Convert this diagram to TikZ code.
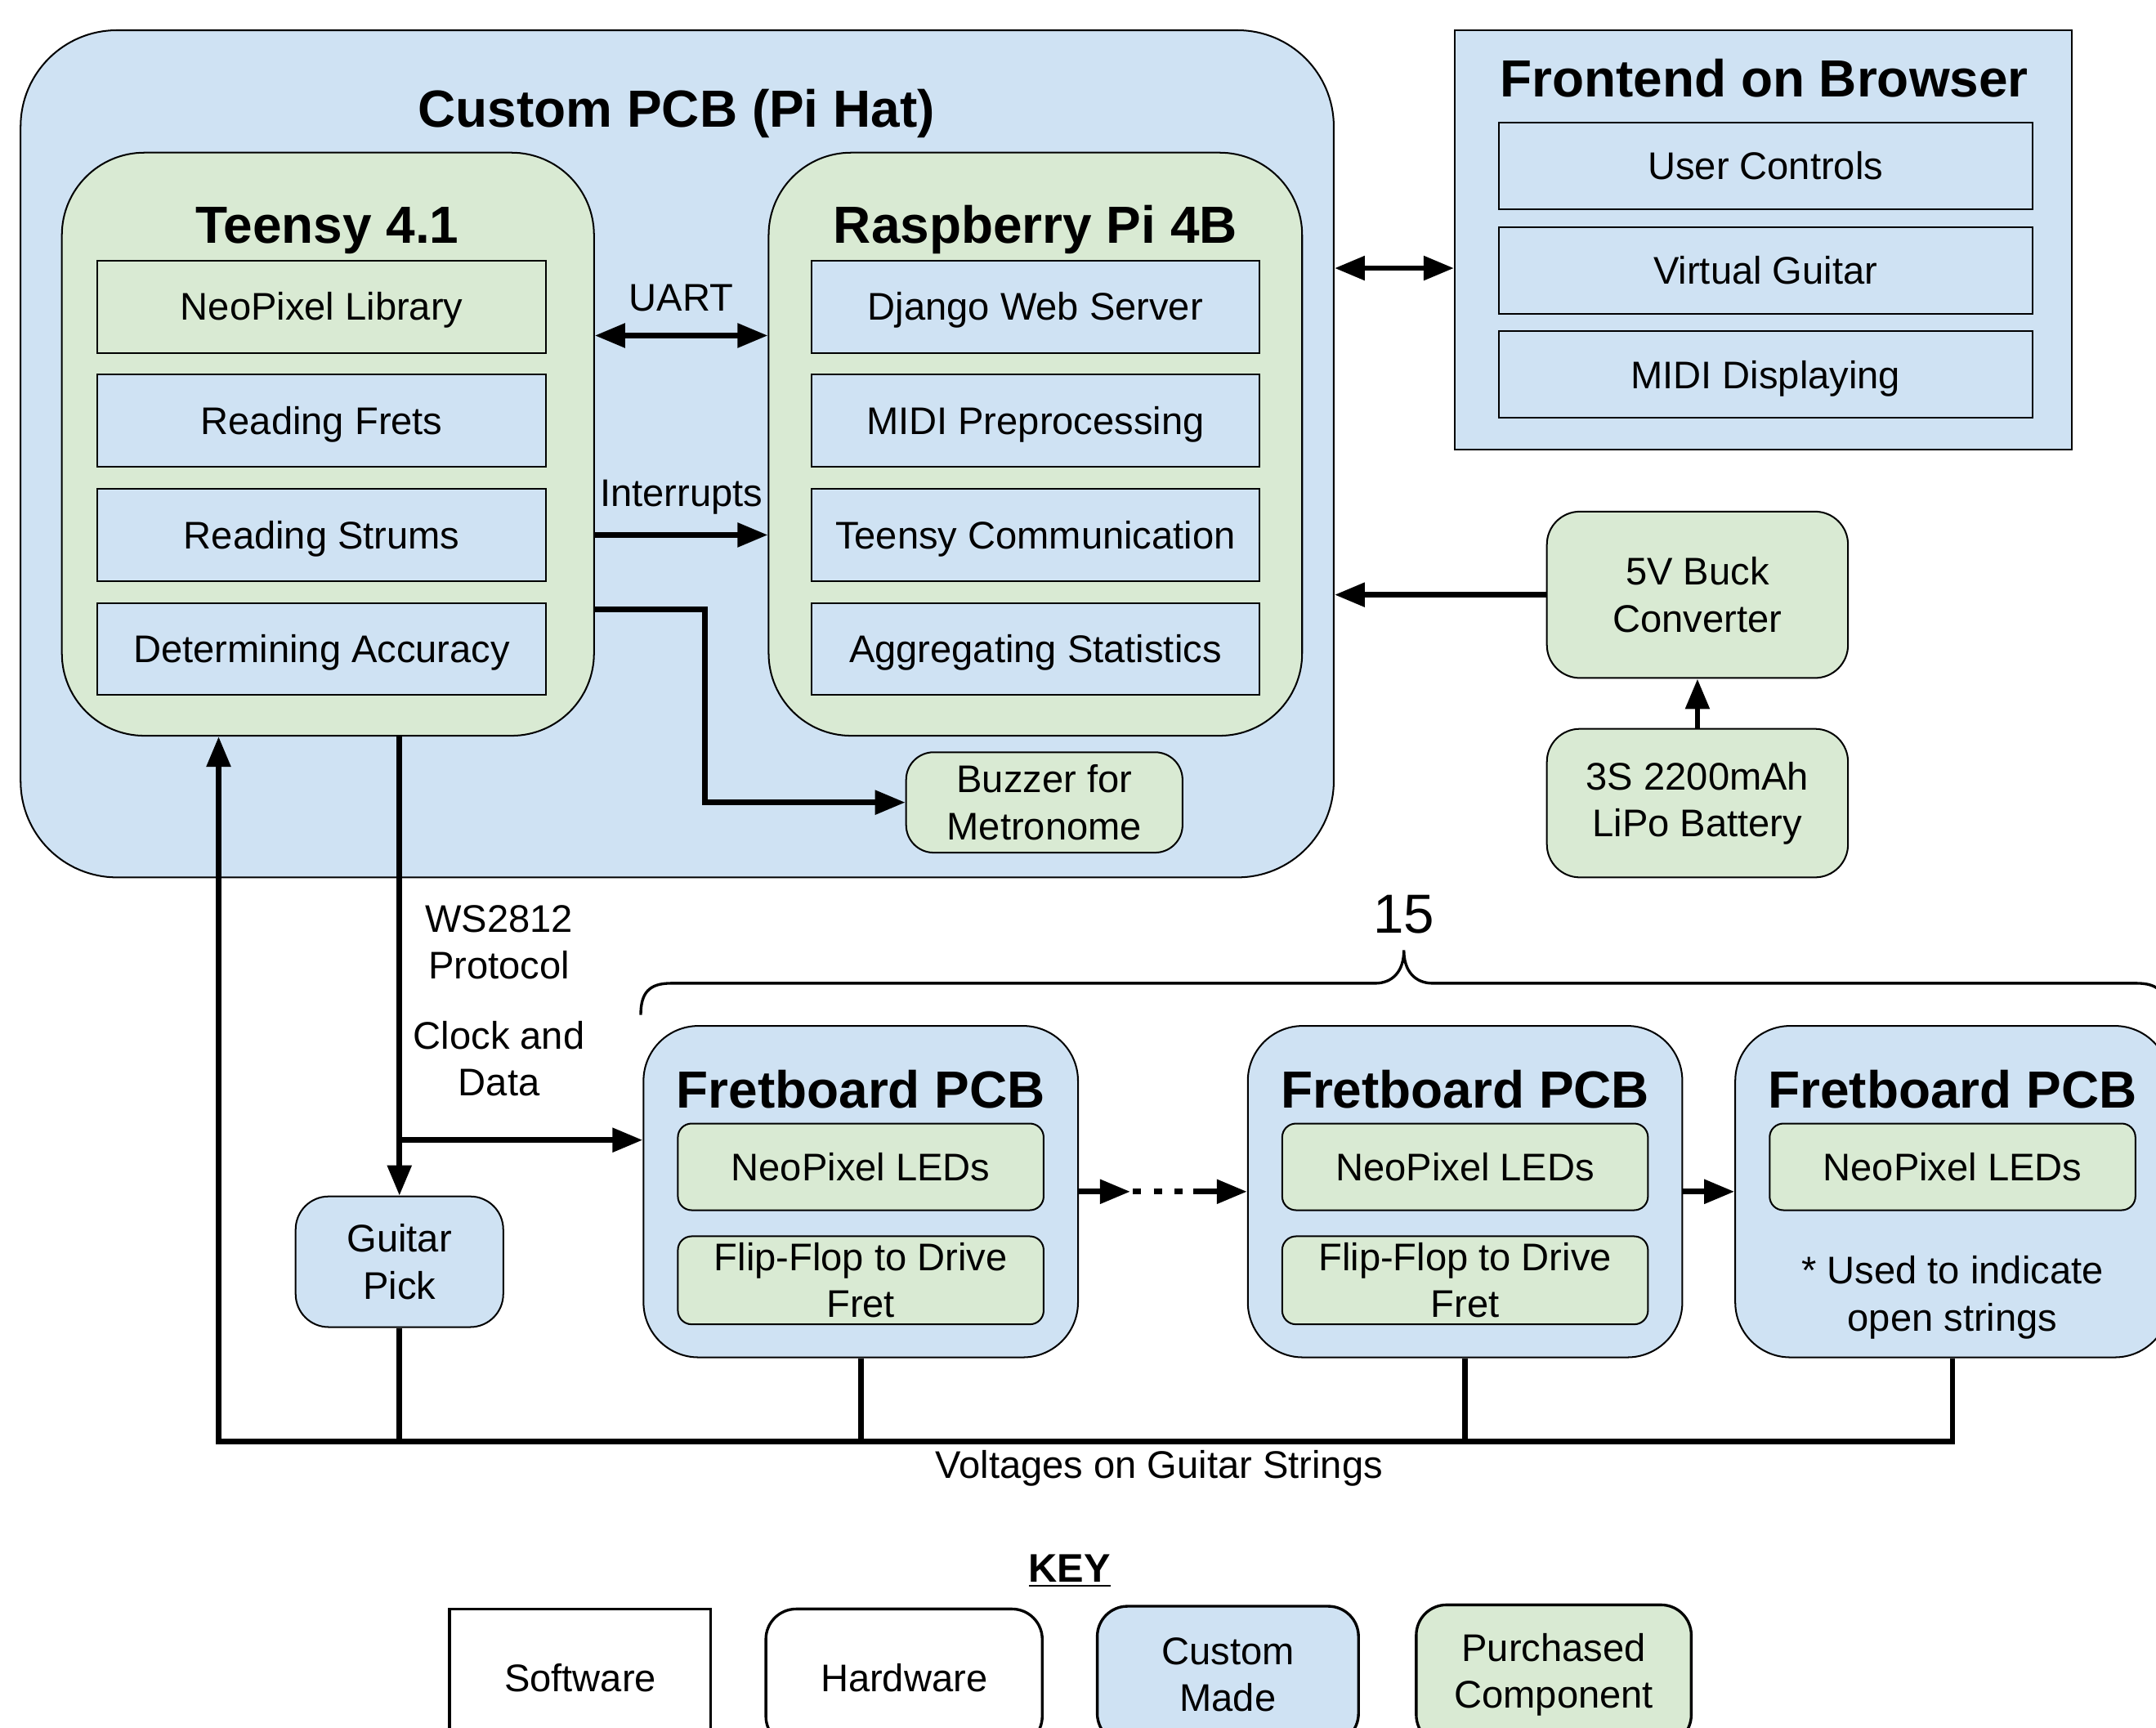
\documentclass[tikz,border=0pt]{standalone}
\usepackage{fontspec}
\setmainfont{Liberation Sans}
\usetikzlibrary{positioning,calc,arrows.meta}
\definecolor{pcbblue}{HTML}{CFE2F3}
\definecolor{partgreen}{HTML}{D9EAD3}
\newcommand{\dgtext}{\fontsize{14}{17}\selectfont}
\newcommand{\dgtitle}{\fontsize{19}{23}\selectfont\bfseries}

\begin{document}
\begin{tikzpicture}
   [x=0.5pt,y=-0.5pt,node distance=7.4pt,
    box/.style={rectangle,draw,line width=0.6pt,inner sep=0pt,align=center,font=\dgtext},
    swbox/.style={box,minimum width=163pt,minimum height=33.5pt,text height=10pt,text depth=0pt},
    hwbox/.style={box,rounded corners=#1},
    fbbox/.style={hwbox=20pt,fill=pcbblue,minimum width=158pt,minimum height=120.5pt},
    ledbox/.style={hwbox=5pt,fill=partgreen,minimum width=133pt,minimum height=31.5pt},
    keybox/.style={box,line width=1pt,minimum width=95pt,minimum height=50pt},
    title/.style={inner sep=0pt,font=\dgtitle,text height=13.6pt,text depth=0pt},
    lbl/.style={inner sep=0pt,align=center,font=\dgtext},
    lblone/.style={lbl,text height=10pt,text depth=0pt},
    wire/.style={line width=2pt},
    arr/.style={wire,-{Triangle[length=11pt,width=8.5pt]}},
    darr/.style={wire,{Triangle[length=11pt,width=8.5pt]}-{Triangle[length=11pt,width=8.5pt]}}]

\clip (0,0) rectangle (1568,1256);
\fill [white] (0,0) rectangle (1568,1256);

\node [hwbox=35pt,fill=pcbblue,minimum width=477.5pt,minimum height=308pt] (pcb) at (492.5,330) {};
\node [title] (pcbt) at (492,79) {Custom PCB (Pi Hat)};

\node [hwbox=30pt,fill=partgreen,minimum width=193.5pt,minimum height=212pt] (teensy) at (238.5,323) {};
\node [title] (teensyt) at (238,163) {Teensy 4.1};
\node [swbox,fill=partgreen] (neolib) at (234,223) {NeoPixel Library};
\node [swbox,fill=pcbblue,below=of neolib] (frets) {Reading Frets};
\node [swbox,fill=pcbblue,below=of frets] (strums) {Reading Strums};
\node [swbox,fill=pcbblue,below=of strums] (accuracy) {Determining Accuracy};

\node [hwbox=30pt,fill=partgreen,minimum width=194pt,minimum height=212pt] (pi) at (753,323) {};
\node [title] (pit) at (753,163) {Raspberry Pi 4B};
\node [swbox,fill=pcbblue] (django) at (753,223) {Django Web Server};
\node [swbox,fill=pcbblue,below=of django] (midipre) {MIDI Preprocessing};
\node [swbox,fill=pcbblue,below=of midipre] (teensycom) {Teensy Communication};
\node [swbox,fill=pcbblue,below=of teensycom] (stats) {Aggregating Statistics};

\node [hwbox=10pt,fill=partgreen,minimum width=100.5pt,minimum height=36.5pt] (buzzer) at (759.5,583.5) {Buzzer for\\Metronome};

\node [box,fill=pcbblue,minimum width=224.5pt,minimum height=152.5pt] (fe) at (1282.5,174.5) {};
\node [title] (fet) at (1283,57) {Frontend on Browser};
\node [swbox,fill=pcbblue,minimum width=194pt,minimum height=31.5pt] (controls) at (1284,120.5) {User Controls};
\node [swbox,fill=pcbblue,minimum width=194pt,minimum height=31.5pt,below=5.9pt of controls] (vguitar) {Virtual Guitar};
\node [swbox,fill=pcbblue,minimum width=194pt,minimum height=31.5pt,below=5.9pt of vguitar] (mididisp) {MIDI Displaying};

\node [hwbox=12pt,fill=partgreen,minimum width=109.5pt,minimum height=60.5pt] (buck) at (1234.5,432.5) {5V Buck\\Converter};
\node [hwbox=12pt,fill=partgreen,minimum width=109.5pt,minimum height=54pt] (batt) at (1234.5,584) {3S 2200mAh\\LiPo Battery};

\node [hwbox=12pt,fill=pcbblue,minimum width=75.5pt,minimum height=47.5pt] (pick) at (290.5,917.5) {Guitar\\Pick};

\node [fbbox] (fb1) at (626,866.5) {};
\node [title] (fb1t) at ($(fb1)+(0,-74.5)$) {Fretboard PCB};
\node [ledbox,text height=10pt,text depth=0pt] (led1) at ($(fb1)+(0,-18)$) {NeoPixel LEDs};
\node [ledbox,minimum height=32pt] (ff1) at ($(fb1)+(0,64.5)$) {Flip-Flop to Drive\\Fret};

\node [fbbox] (fb2) at (1065.5,866.5) {};
\node [title] (fb2t) at ($(fb2)+(0,-74.5)$) {Fretboard PCB};
\node [ledbox,text height=10pt,text depth=0pt] (led2) at ($(fb2)+(0,-18)$) {NeoPixel LEDs};
\node [ledbox,minimum height=32pt] (ff2) at ($(fb2)+(0,64.5)$) {Flip-Flop to Drive\\Fret};

\node [fbbox] (fb3) at (1420,866.5) {};
\node [title] (fb3t) at ($(fb3)+(0,-74.5)$) {Fretboard PCB};
\node [ledbox,text height=10pt,text depth=0pt] (led3) at ($(fb3)+(0,-18)$) {NeoPixel LEDs};
\node [lbl] (opennote) at ($(fb3)+(0,77)$) {* Used to indicate\\open strings};

\draw [darr] (teensy.east |- 0,244) -- (pi.west |- 0,244) node [lblone,midway,above=8pt] (uart) {UART};
\draw [arr] (teensy.east |- 0,389) -- (pi.west |- 0,389) node [lblone,midway,above=9.5pt] (irq) {Interrupts};
\draw [arr] (teensy.east |- 0,443) -- ++(80,0) |- (buzzer.west);
\draw [darr] (pcb.east |- 0,195) -- (fe.west |- 0,195);
\draw [arr] (buck.west) -- (buck.west -| pcb.east);
\draw [arr] (batt.north) -- (buck.south);

\draw [arr] (teensy.south -| pick.north) -- (pick.north);
\draw [arr] (pick.north |- 0,829) -- (fb1.west |- 0,829);
\node [lbl] (ws) at (363,685) {WS2812\\Protocol};
\node [lbl] (clk) at (363,770) {Clock and\\Data};

\coordinate (dotA) at (822,866.5);
\coordinate (dotB) at (862,866.5);
\coordinate (dotC) at (868,866.5);
\draw [arr] (fb1.east) -- (dotA);
\draw [wire,dash pattern=on 3pt off 4.5pt] ([xshift=1pt]dotA) -- (dotB);
\draw [arr] (dotC) -- (fb2.west);
\draw [arr] (fb2.east) -- (fb3.west);

\coordinate (vbus) at (159,1048);
\draw [arr] (fb3.south) |- (vbus) -- (vbus |- teensy.south);
\draw [wire] (pick.south) -- (pick.south |- vbus);
\draw [wire] (fb1.south) -- (fb1.south |- vbus);
\draw [wire] (fb2.south) -- (fb2.south |- vbus);
\node [lblone] (volt) at (843,1065) {Voltages on Guitar Strings};

\draw [line width=1pt] (466,738) .. controls (466,722) and (472,715) .. (488,715) -- (1000,715) .. controls (1013,715) and (1021,706) .. (1021,691) .. controls (1021,706) and (1029,715) .. (1042,715) -- (1554,715) .. controls (1570,715) and (1576,722) .. (1576,738);
\node [inner sep=0pt,font=\fontsize{20}{24}\selectfont,text height=14.3pt,text depth=0pt] (count) at (1021,664) {15};

\node [inner sep=0pt,font=\fontsize{14.5}{17}\selectfont\bfseries,text height=10.4pt,text depth=0pt] (key) at (778,1140) {\underline{KEY}};
\node [keybox,fill=white] (kso) at (422,1220) {Software};
\node [keybox,rounded corners=11pt,fill=white,minimum width=100.5pt] (kha) at (657.5,1220) {Hardware};
\node [keybox,rounded corners=11pt,fill=pcbblue] (kcu) at (893,1218) {Custom\\Made};
\node [keybox,rounded corners=11pt,fill=partgreen,minimum width=100pt,minimum height=51pt] (kpu) at (1130,1218) {Purchased\\Component};
\end{tikzpicture}
\end{document}
